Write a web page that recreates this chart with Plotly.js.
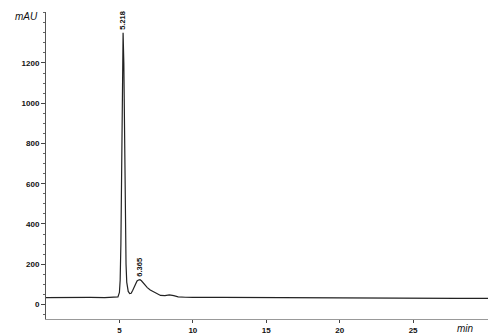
<!DOCTYPE html>
<html><head><meta charset="utf-8">
<script src="https://cdn.plot.ly/plotly-3.0.1.min.js"></script>
<style>html,body{margin:0;padding:0;background:#fff}#c{width:488px;height:334px}</style>
</head><body><div id="c"></div>
<script>
const timeMin = [0, 1, 2, 3, 4, 4.6, 4.9, 5.0, 5.05, 5.1, 5.15, 5.2, 5.25, 5.3, 5.35, 5.4, 5.45, 5.5, 5.6, 5.7, 5.8, 5.9, 6.0, 6.1, 6.2, 6.3, 6.4, 6.5, 6.7, 6.9, 7.1, 7.3, 7.5, 7.8, 8.1, 8.4, 8.7, 9.0, 9.5, 10, 12, 14, 16, 18, 20, 22, 24, 26, 28, 30.1];
const signalMAU = [34, 35, 34, 35, 34, 35, 38, 60, 120, 300, 700, 1150, 1350, 1200, 800, 400, 200, 110, 65, 54, 56, 70, 88, 105, 117, 122, 123, 118, 100, 84, 72, 64, 55, 45, 44, 48, 44, 38, 36, 35, 35, 34, 34, 33, 32, 32, 31, 31, 30, 30];
const peakTimes = [5.218, 6.365];
const peakLabels = ["5.218", "6.365"];
const peakHeights = [1350, 123];
const yTicks = [0, 200, 400, 600, 800, 1000, 1200];
const xTicks = [5, 10, 15, 20, 25];

const tickFont = {family: "Liberation Sans, Arial, sans-serif", size: 8, color: "#111", weight: "bold"};
const annotations = peakTimes.map((t, i) => ({
  x: t, y: peakHeights[i], xref: "x", yref: "y", text: peakLabels[i], textangle: -90,
  showarrow: false, yanchor: "bottom", xanchor: "center", yshift: 1,
  font: {family: "Liberation Sans, Arial, sans-serif", size: 7.5, color: "#111", weight: "bold"}
}));
annotations.push({x: 0, y: 1, xref: "paper", yref: "paper", xanchor: "right", yanchor: "middle", xshift: -6, yshift: -4,
  text: "<i>mAU</i>", showarrow: false, font: {family: "Liberation Sans, Arial, sans-serif", size: 10, color: "#111"}});
annotations.push({x: 28.6, y: 0, xref: "x", yref: "paper", xanchor: "center", yanchor: "top", yshift: -2,
  text: "<i>min</i>", showarrow: false, font: {family: "Liberation Sans, Arial, sans-serif", size: 10, color: "#111"}});

Plotly.newPlot("c", [{
  x: timeMin, y: signalMAU, type: "scatter", mode: "lines",
  line: {color: "#222", width: 1.2}, hoverinfo: "skip"
}], {
  width: 488, height: 334,
  margin: {l: 46, r: 0, t: 12, b: 15},
  paper_bgcolor: "#fff", plot_bgcolor: "#fff",
  showlegend: false,
  xaxis: {range: [0, 30.1], tickvals: xTicks, ticktext: xTicks.map(String), ticks: "outside", ticklen: 3,
    tickcolor: "#444", showgrid: false, zeroline: false, showline: true, linecolor: "#999", linewidth: 1,
    tickfont: tickFont},
  yaxis: {range: [-72, 1453], tickvals: yTicks, ticktext: yTicks.map(String), ticks: "outside", ticklen: 4,
    tickcolor: "#444", showgrid: false, zeroline: false, showline: true, linecolor: "#555", linewidth: 1,
    tickfont: tickFont, minor: {dtick: 50, ticks: "outside", ticklen: 2, tickcolor: "#666"}},
  annotations: annotations
}, {staticPlot: true, displayModeBar: false});
</script></body></html>
